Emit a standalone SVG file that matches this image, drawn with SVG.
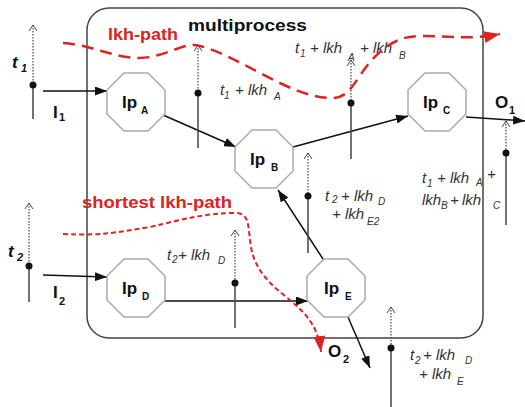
<svg xmlns="http://www.w3.org/2000/svg" width="525" height="407" viewBox="0 0 525 407">
<style>
.frame{fill:none;stroke:#444;stroke-width:1.5}
.oct{fill:#fff;stroke:#aaa;stroke-width:1.5}
.ip{font-family:"Liberation Sans",Arial,sans-serif;font-weight:bold;font-size:17px;fill:#111}
.ips{font-family:"Liberation Sans",Arial,sans-serif;font-weight:bold;font-size:10px;fill:#111}
.arr{fill:none;stroke:#111;stroke-width:1.5}
.solid{stroke:#444;stroke-width:1.5}
.dot{stroke:#444;stroke-width:1.2;stroke-dasharray:1.5 1.5}
.chev{fill:none;stroke:#444;stroke-width:1}
.pt{fill:#111}
.lab{font-family:"Liberation Sans",Arial,sans-serif;font-style:italic;font-size:15px;fill:#333}
.labs{font-family:"Liberation Sans",Arial,sans-serif;font-style:italic;font-size:10px;fill:#333}
.bl{font-family:"Liberation Sans",Arial,sans-serif;font-weight:bold;font-size:17px;fill:#111}
.bls{font-family:"Liberation Sans",Arial,sans-serif;font-weight:bold;font-size:11px;fill:#111}
.red{font-family:"Liberation Sans",Arial,sans-serif;font-weight:bold;font-size:17px;fill:#dd2222}
.rp1{fill:none;stroke:#dd2222;stroke-width:2.5;stroke-dasharray:12 7}
.rp2{fill:none;stroke:#dd2222;stroke-width:2;stroke-dasharray:5 3}
</style>
<defs>
<marker id="ah" viewBox="0 0 12 9" refX="12" refY="4.5" markerWidth="12" markerHeight="9" markerUnits="userSpaceOnUse" orient="auto"><path d="M0,0 L12,4.5 L0,9 z" fill="#111"/></marker>
<marker id="rah" viewBox="0 0 16 12" refX="16" refY="6" markerWidth="16" markerHeight="12" markerUnits="userSpaceOnUse" orient="auto"><path d="M0,0 L16,6 L0,12 z" fill="#dd2222"/></marker>
<path id="octp" d="M-12,-29 L12,-29 L29,-12 L29,12 L12,29 L-12,29 L-29,12 L-29,-12 z"/>
</defs>

<rect class="frame" x="87" y="8" width="396" height="330" rx="22" ry="22"/>
<text class="bl" x="188" y="31" font-size="18" textLength="119" lengthAdjust="spacingAndGlyphs">multiprocess</text>

<g id="connectors">
<line class="arr" x1="43" y1="91" x2="107" y2="91" marker-end="url(#ah)"/>
<line class="arr" x1="163" y1="115" x2="236" y2="147" marker-end="url(#ah)"/>
<line class="arr" x1="293" y1="147" x2="408" y2="116" marker-end="url(#ah)"/>
<line class="arr" x1="466" y1="117" x2="525" y2="121" marker-end="url(#ah)"/>
<line class="arr" x1="43" y1="275" x2="107" y2="277" marker-end="url(#ah)"/>
<line class="arr" x1="165" y1="301" x2="308" y2="301" marker-end="url(#ah)"/>
<line class="arr" x1="323" y1="259" x2="278" y2="190" marker-end="url(#ah)"/>
<line class="arr" x1="348" y1="317" x2="370" y2="368" marker-end="url(#ah)"/>
</g>

<g id="ipA"><use href="#octp" class="oct" x="136" y="102"/><text class="ip" x="122" y="108">Ip</text><text class="ips" x="141" y="114">A</text></g>
<g id="ipB"><use href="#octp" class="oct" x="264" y="159"/><text class="ip" x="250" y="165">Ip</text><text class="ips" x="271" y="171">B</text></g>
<g id="ipC"><use href="#octp" class="oct" x="437" y="102"/><text class="ip" x="423" y="108">Ip</text><text class="ips" x="443" y="114">C</text></g>
<g id="ipD"><use href="#octp" class="oct" x="136" y="288"/><text class="ip" x="122" y="294">Ip</text><text class="ips" x="142" y="300">D</text></g>
<g id="ipE"><use href="#octp" class="oct" x="336" y="288"/><text class="ip" x="324" y="294">Ip</text><text class="ips" x="345" y="300">E</text></g>

<g id="markers">
<g id="m1"><line class="dot" x1="33" y1="25" x2="33" y2="85"/><polyline class="chev" points="29,31 33,25 37,31"/><line class="solid" x1="33" y1="85" x2="33" y2="119"/><circle class="pt" cx="33" cy="85" r="3.5"/></g>
<g id="m2"><line class="dot" x1="198" y1="45" x2="198" y2="93"/><polyline class="chev" points="194,51 198,45 202,51"/><line class="solid" x1="198" y1="93" x2="198" y2="148"/><circle class="pt" cx="198" cy="93" r="3.5"/></g>
<g id="m3"><line class="dot" x1="351" y1="60" x2="351" y2="103"/><polyline class="chev" points="347,66 351,60 355,66"/><line class="solid" x1="351" y1="103" x2="351" y2="159"/><circle class="pt" cx="351" cy="103" r="3.5"/></g>
<g id="m4"><line class="dot" x1="506" y1="121" x2="506" y2="153"/><polyline class="chev" points="502,127 506,121 510,127"/><line class="solid" x1="506" y1="153" x2="506" y2="225"/><circle class="pt" cx="506" cy="153" r="3.5"/></g>
<g id="m5"><line class="dot" x1="29" y1="203" x2="29" y2="266"/><polyline class="chev" points="25,209 29,203 33,209"/><line class="solid" x1="29" y1="266" x2="29" y2="302"/><circle class="pt" cx="29" cy="266" r="3.5"/></g>
<g id="m6"><line class="dot" x1="235" y1="230" x2="235" y2="283"/><polyline class="chev" points="231,236 235,230 239,236"/><line class="solid" x1="235" y1="283" x2="235" y2="328"/><circle class="pt" cx="235" cy="283" r="3.5"/></g>
<g id="m7"><line class="dot" x1="308" y1="153" x2="308" y2="196"/><polyline class="chev" points="304,159 308,153 312,159"/><line class="solid" x1="308" y1="196" x2="308" y2="253"/><circle class="pt" cx="308" cy="196" r="3.5"/></g>
<g id="m8"><line class="dot" x1="391" y1="307" x2="391" y2="348"/><polyline class="chev" points="387,313 391,307 395,313"/><line class="solid" x1="391" y1="348" x2="391" y2="407"/><circle class="pt" cx="391" cy="348" r="3.5"/></g>
</g>

<g id="inputs">
<text class="bl" x="12" y="68" font-style="italic">t</text><text class="bls" x="21" y="72" font-style="italic">1</text>
<text class="bl" x="8" y="257" font-style="italic">t</text><text class="bls" x="17" y="261" font-style="italic">2</text>
<text class="bl" x="53" y="118">I</text><text class="bls" x="59" y="121">1</text>
<text class="bl" x="53" y="298">I</text><text class="bls" x="59" y="305">2</text>
<text class="bl" x="495" y="108">O</text><text class="bls" x="509" y="114">1</text>
<text class="bl" x="328" y="357">O</text><text class="bls" x="343" y="363">2</text>
</g>

<g id="labels">
<text class="lab" x="220" y="95">t</text><text class="labs" x="224" y="99">1</text><text class="lab" x="235" y="95">+ lkh</text><text class="labs" x="274" y="100">A</text>

<text class="lab" x="295" y="53">t</text><text class="labs" x="300" y="57">1</text><text class="lab" x="310" y="53">+ lkh</text><text class="labs" x="348" y="61">A</text><text class="lab" x="360" y="53">+ lkh</text><text class="labs" x="399" y="59">B</text>

<text class="lab" x="422" y="183">t</text><text class="labs" x="427" y="187">1</text><text class="lab" x="437" y="183">+ lkh</text><text class="labs" x="476" y="186">A</text><text class="lab" x="487" y="179">+</text>
<text class="lab" x="422" y="205">lkh</text><text class="labs" x="441" y="209">B</text><text class="lab" x="450" y="205">+</text><text class="lab" x="462" y="205">lkh</text><text class="labs" x="493" y="209">C</text>

<text class="lab" x="325" y="201">t</text><text class="labs" x="332" y="203">2</text><text class="lab" x="341" y="201">+ lkh</text><text class="labs" x="378" y="205">D</text>
<text class="lab" x="332" y="219">+ lkh</text><text class="labs" x="367" y="225">E2</text>

<text class="lab" x="167" y="260">t</text><text class="labs" x="172" y="263">2</text><text class="lab" x="178" y="260">+ lkh</text><text class="labs" x="218" y="264">D</text>

<text class="lab" x="410" y="360">t</text><text class="labs" x="415" y="364">2</text><text class="lab" x="423" y="360">+ lkh</text><text class="labs" x="465" y="364">D</text>
<text class="lab" x="419" y="379">+ lkh</text><text class="labs" x="457" y="385">E</text>
</g>

<g id="paths">
<path class="rp1" d="M63,43 C95,45 120,62 150,57 C175,52 185,42 200,46 C240,56 290,98 332,98 C350,98 355,80 370,62 C385,45 400,36 420,36 C450,36 470,40 500,34" marker-end="url(#rah)"/>
<text class="red" x="108" y="40" textLength="70" lengthAdjust="spacingAndGlyphs">lkh-path</text>
<path class="rp2" d="M63,234 C100,236 120,232 150,227 C185,219 205,213 235,213 C248,213 248,222 250,240 C252,262 262,278 285,296 C305,312 318,325 321,352" marker-end="url(#rah)"/>
<text class="red" x="82" y="208" textLength="150" lengthAdjust="spacingAndGlyphs">shortest lkh-path</text>
</g>
</svg>
